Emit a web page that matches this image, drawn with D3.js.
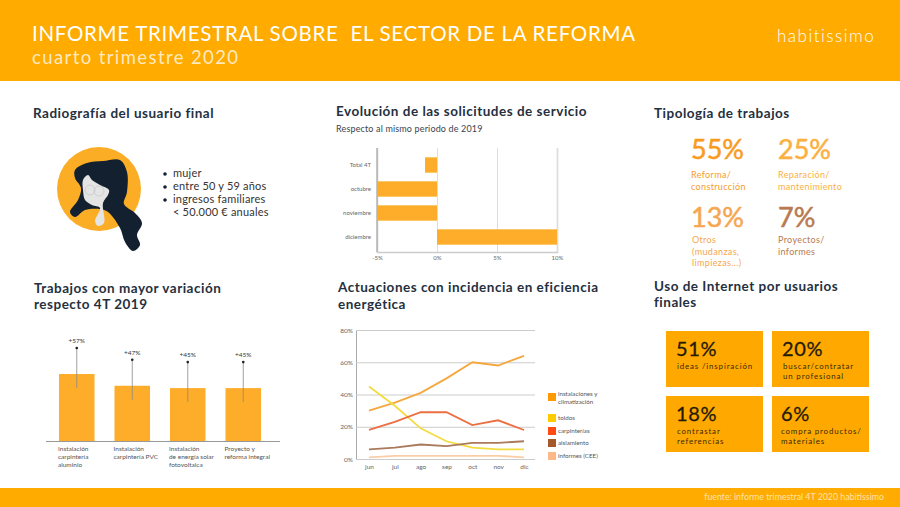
<!DOCTYPE html>
<html lang="es">
<head>
<meta charset="utf-8">
<title>Informe trimestral</title>
<script src="https://cdn.jsdelivr.net/npm/d3@7"></script>
<style>
html, body { margin: 0; padding: 0; background: #fff; }
svg { display: block; font-family: Lato, sans-serif; }
.title { font-size: 13.5px; font-weight: 700; fill: #25303f; letter-spacing: .5px; }
.axis text { font-family: Lato, sans-serif; fill: #666; }
</style>
</head>
<body>
<svg id="chart" width="900" height="507"></svg>
<script>
// Evolucion de las solicitudes
var requestMonths = ["Total 4T", "octubre", "noviembre", "diciembre"];
var requestValues = [-1, -5, -5, 10];
var requestTicks = [-5, 0, 5, 10];

// Trabajos con mayor variacion
var jobLabels = [
	["Instalación", "carpintería", "aluminio"],
	["Instalación", "carpintería PVC"],
	["Instalación", "de energía solar", "fotovoltaica"],
	["Proyecto y", "reforma integral"]
];
var jobValues = [57, 47, 45, 45];

// Actuaciones con incidencia en eficiencia energetica
var lineMonths = ["jun", "jul", "ago", "sep", "oct", "nov", "dic"];
var lineTicks = [0, 20, 40, 60, 80];
var installValues = [30, 35, 41, 50, 60, 58, 64];
var awningValues = [45, 33, 19, 11, 7, 6, 6];
var carpentryValues = [18, 23, 29, 29, 21, 24, 18];
var insulationValues = [6, 7, 9, 8, 10, 10, 11];
var reportValues = [1, 2, 2, 2, 2, 2, 1];
var lineNames = [["instalaciones y", "climatización"], ["toldos"], ["carpinterías"], ["aislamiento"], ["informes (CEE)"]];
var lineColors = ["#f5a83e", "#f3dc3f", "#ec6f42", "#a97a5c", "#f9cda6"];
var legendColors = ["#ff9900", "#ffcc00", "#ff4a12", "#a5582c", "#fbb98a"];

// Tipologia de trabajos
var typeValues = ["55%", "25%", "13%", "7%"];
var typeLabels = [["Reforma/", "construcción"], ["Reparación/", "mantenimiento"], ["Otros", "(mudanzas,", "limpiezas...)"], ["Proyectos/", "informes"]];
var typeColors = ["#f99b1e", "#fbb040", "#f6a650", "#b87a50"];

// Uso de Internet
var webValues = ["51%", "20%", "18%", "6%"];
var webLabels = [["ideas /inspiración"], ["buscar/contratar", "un profesional"], ["contrastar", "referencias"], ["compra productos/", "materiales"]];

var userLines = ["mujer", "entre 50 y 59 años", "ingresos familiares", "< 50.000 € anuales"];

var orange = "#ffab00";
var barColor = "#fdad2a";
var svg = d3.select("#chart");

function addLines(g, lines, x, y, step, size, color, spacing) {
	lines.forEach(function (line, i) {
		g.append("text").attr("x", x).attr("y", y + i * step)
			.style("font-size", size + "px").style("letter-spacing", (spacing || 0) + "px")
			.attr("fill", color).text(line);
	});
}

// header and footer
svg.append("rect").attr("width", 900).attr("height", 81).attr("fill", orange);
svg.append("rect").attr("y", 488).attr("width", 900).attr("height", 19).attr("fill", orange);
svg.append("text").attr("x", 32).attr("y", 41).attr("fill", "#fff")
	.style("font-size", "20.5px").style("letter-spacing", ".7px").style("white-space", "pre")
	.text("INFORME TRIMESTRAL SOBRE  EL SECTOR DE LA REFORMA");
svg.append("text").attr("x", 32).attr("y", 64).attr("fill", "#ffe9c0")
	.style("font-size", "18.5px").style("letter-spacing", "1.4px").text("cuarto trimestre 2020");
svg.append("text").attr("x", 777).attr("y", 42).attr("fill", "#fff")
	.style("font-size", "17px").style("font-weight", 300).style("letter-spacing", "1.5px").text("habitissimo");
svg.append("text").attr("x", 884).attr("y", 500).attr("text-anchor", "end").attr("fill", "#ffe3a8")
	.style("font-size", "8.8px").text("fuente: informe trimestral 4T 2020 habitissimo");

// section titles
[
	[33, 118, "Radiografía del usuario final"],
	[336, 116, "Evolución de las solicitudes de servicio"],
	[654, 118, "Tipología de trabajos"],
	[34, 293, "Trabajos con mayor variación"],
	[34, 309, "respecto 4T 2019"],
	[338, 292, "Actuaciones con incidencia en eficiencia"],
	[338, 309, "energética"],
	[654, 291, "Uso de Internet por usuarios"],
	[654, 307, "finales"]
].forEach(function (t) {
	svg.append("text").attr("class", "title").attr("x", t[0]).attr("y", t[1]).text(t[2]);
});
svg.append("text").attr("x", 336).attr("y", 132).attr("fill", "#3a4350")
	.style("font-size", "9px").style("letter-spacing", ".15px").text("Respecto al mismo periodo de 2019");

// user illustration
var face = svg.append("g");
face.append("circle").attr("cx", 99).attr("cy", 189).attr("r", 42).attr("fill", "#fbad26");
var smooth = d3.line().curve(d3.curveCatmullRomClosed);
face.append("path").attr("fill", "#13202f").attr("d", smooth([
	[75, 170], [87, 163], [103, 161], [120, 160], [127, 172], [127, 192], [124, 204], [135, 213],
	[142, 223], [137, 235], [140, 245], [133, 251], [125, 242], [120, 228], [108, 212], [100, 209],
	[85, 210], [75, 217], [70, 212], [78, 200], [81, 188], [75, 178]
]));
face.append("path").attr("fill", "#e4e4e4").attr("d", smooth([
	[83, 180], [88, 175], [92, 180], [100, 185], [109, 190], [108, 195], [103, 203], [104, 223],
	[98, 226], [95, 221], [100, 208], [92, 205], [85, 200], [83, 190]
]));
face.selectAll("circle.lens").data([[90, 190], [99, 191]]).join("circle").attr("class", "lens")
	.attr("cx", function (d) { return d[0]; }).attr("cy", function (d) { return d[1]; })
	.attr("r", 5).attr("fill", "none").attr("stroke", "#c4c4c4").attr("stroke-width", .7);

userLines.forEach(function (line, i) {
	if (i < 3) svg.append("circle").attr("cx", 165).attr("cy", 174 + i * 13).attr("r", 1.8).attr("fill", "#13202f");
	svg.append("text").attr("x", 173).attr("y", 177 + i * 13).attr("fill", "#333")
		.style("font-size", "11px").style("letter-spacing", ".2px").text(line);
});

// horizontal bars
var xReq = d3.scaleLinear().domain([-5, 10]).range([377, 557]);
var yReq = d3.scaleBand().domain(requestMonths).range([153, 249]).paddingInner(.36).paddingOuter(.18);
var reqAxis = svg.append("g").attr("class", "axis").attr("transform", "translate(0,252)")
	.call(d3.axisBottom(xReq).tickValues(requestTicks).tickSize(-104).tickFormat(function (d) { return d + "%"; }));
reqAxis.select(".domain").attr("stroke", "#ccc").attr("stroke-width", 1.5);
reqAxis.selectAll("line").attr("stroke", "#ddd");
reqAxis.selectAll("text").style("font-size", "6px").attr("dy", "0.9em");
svg.append("line").attr("x1", xReq(-5)).attr("x2", xReq(-5)).attr("y1", 148).attr("y2", 252).attr("stroke", "#999");
svg.selectAll("rect.req").data(requestValues).join("rect").attr("class", "req")
	.attr("x", function (d) { return xReq(Math.min(d, 0)); })
	.attr("y", function (d, i) { return yReq(requestMonths[i]); })
	.attr("width", function (d) { return Math.abs(xReq(d) - xReq(0)); })
	.attr("height", yReq.bandwidth()).attr("fill", barColor);
svg.selectAll("text.reqLabel").data(requestMonths).join("text").attr("class", "reqLabel")
	.attr("x", 371).attr("y", function (d) { return yReq(d) + yReq.bandwidth() / 2 + 2; })
	.attr("text-anchor", "end").attr("fill", "#666").style("font-size", "6px").text(function (d) { return d; });

// vertical bars
var xJob = d3.scaleBand().domain(d3.range(jobValues.length)).range([49, 271]).paddingInner(.36).paddingOuter(.18);
var yJob = d3.scaleLinear().domain([0, 57]).range([441, 374]);
svg.selectAll("rect.job").data(jobValues).join("rect").attr("class", "job")
	.attr("x", function (d, i) { return xJob(i); }).attr("y", function (d) { return yJob(d); })
	.attr("width", xJob.bandwidth()).attr("height", function (d) { return 441 - yJob(d); }).attr("fill", barColor);
svg.append("line").attr("x1", 46).attr("x2", 280).attr("y1", 441.5).attr("y2", 441.5).attr("stroke", "#999");
jobValues.forEach(function (d, i) {
	var cx = xJob(i) + xJob.bandwidth() / 2;
	svg.append("line").attr("x1", cx).attr("x2", cx).attr("y1", yJob(d) - 26).attr("y2", yJob(d) + 14)
		.attr("stroke", "#8a8a8a").attr("stroke-width", .8);
	svg.append("circle").attr("cx", cx).attr("cy", yJob(d) - 26).attr("r", 1.3).attr("fill", "#222");
	svg.append("text").attr("x", cx).attr("y", yJob(d) - 31).attr("text-anchor", "middle").attr("fill", "#333")
		.style("font-size", "6.5px").text("+" + d + "%");
	addLines(svg, jobLabels[i], xJob(i) - 1, 451, 7.8, 6.5, "#555");
});

// line chart
var xLine = d3.scalePoint().domain(lineMonths).range([369, 524]);
var yLine = d3.scaleLinear().domain([0, 80]).range([459, 330]);
var yAxis = svg.append("g").attr("class", "axis").attr("transform", "translate(356,0)")
	.call(d3.axisLeft(yLine).tickValues(lineTicks).tickSize(-179).tickFormat(function (d) { return d + "%"; }));
yAxis.select(".domain").attr("stroke", "#aaa");
yAxis.selectAll("line").attr("stroke", "#ccc");
yAxis.selectAll("text").style("font-size", "6.5px").attr("x", -3);
var xAxis = svg.append("g").attr("class", "axis").attr("transform", "translate(0,459)")
	.call(d3.axisBottom(xLine).tickSize(0));
xAxis.select(".domain").remove();
xAxis.selectAll("text").style("font-size", "6.5px").attr("dy", "1.1em");
var lineGen = d3.line()
	.x(function (d, i) { return xLine(lineMonths[i]); })
	.y(function (d) { return yLine(d); });
[installValues, awningValues, carpentryValues, insulationValues, reportValues].forEach(function (values, i) {
	svg.append("path").attr("d", lineGen(values)).attr("fill", "none")
		.attr("stroke", lineColors[i]).attr("stroke-width", 1.8);
});
[397, 418, 431, 443, 456].forEach(function (y, i) {
	svg.append("rect").attr("x", 548).attr("y", y - 4).attr("width", 8).attr("height", 8).attr("fill", legendColors[i]);
	addLines(svg, lineNames[i], 558, y + (i == 0 ? -1 : 2), 7.5, 6.2, "#555");
});

// typology numbers
[[691, 159], [778, 159], [691, 227], [778, 227]].forEach(function (p, i) {
	svg.append("text").attr("x", p[0]).attr("y", p[1]).attr("fill", typeColors[i])
		.attr("stroke", typeColors[i]).attr("stroke-width", .5)
		.style("font-size", "27px").text(typeValues[i]);
	var top = i < 2 ? p[1] + 19 : p[1] + 16;
	addLines(svg, typeLabels[i], p[0] + (i == 2 ? 1 : 0), top, 11.5, 9, typeColors[i], .35);
});

// internet boxes
[[666, 331], [772, 331], [666, 396], [772, 396]].forEach(function (p, i) {
	svg.append("rect").attr("x", p[0]).attr("y", p[1]).attr("width", 97).attr("height", 56).attr("fill", "#ffa900");
	svg.append("text").attr("x", p[0] + (i == 3 ? 9 : 10)).attr("y", p[1] + 25).attr("fill", "#241a05")
		.attr("stroke", "#241a05").attr("stroke-width", .3)
		.style("font-size", "20px").style("letter-spacing", ".6px").text(webValues[i]);
	addLines(svg, webLabels[i], p[0] + (i == 3 ? 9 : 11), p[1] + 38, 9.6, 7.9, "#3a2a05", .85);
});
</script>
</body>
</html>
